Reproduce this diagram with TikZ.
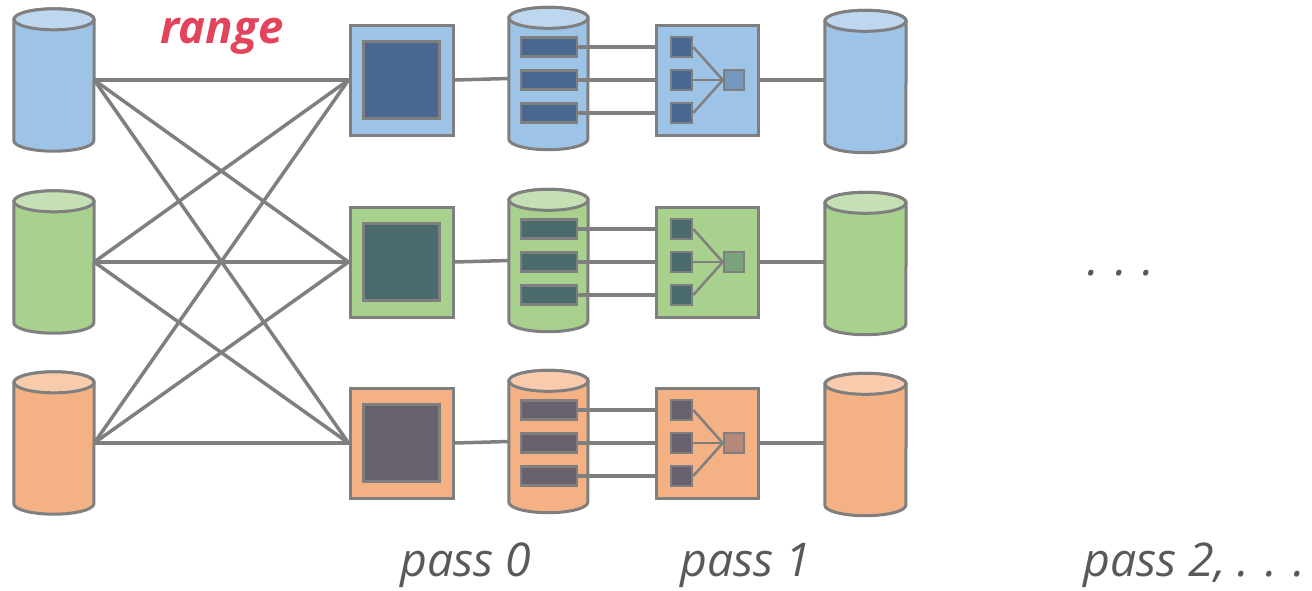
\documentclass[tikz,border=0pt]{standalone}
\usepackage{fontspec}
\setmainfont{Open Sans}
\usetikzlibrary{positioning}

\definecolor{edgegray}{HTML}{7F7F7F}
\definecolor{rangered}{HTML}{E2445C}
\definecolor{passgray}{HTML}{595959}
\definecolor{bluebody}{HTML}{9DC3E6}
\definecolor{bluetop}{HTML}{BDD7EE}
\definecolor{bluedark}{HTML}{4A6790}
\definecolor{blueout}{HTML}{7298C0}
\definecolor{greenbody}{HTML}{A9D18E}
\definecolor{greentop}{HTML}{C5E0B4}
\definecolor{greendark}{HTML}{4A6A6C}
\definecolor{greenout}{HTML}{7AA47C}
\definecolor{orangebody}{HTML}{F4B183}
\definecolor{orangetop}{HTML}{F8CBAD}
\definecolor{orangedark}{HTML}{68606C}
\definecolor{orangeout}{HTML}{B5887A}

% body of a cylinder: an invisible node, then sides and lid
\newcommand{\drum}[6]{%
  \node[drumbody, minimum width=#4pt] (#1) at (#2,#3) {};
  \draw[drumline, fill=#5] (#1.north west) -- (#1.south west)
    arc[start angle=180, end angle=360, x radius=#4pt/2, y radius=10.5pt]
    -- (#1.north east)
    arc[start angle=0, end angle=180, x radius=#4pt/2, y radius=10.5pt] -- cycle;
  \draw[drumline, fill=#6] (#1.north) ellipse[x radius=#4pt/2, y radius=10.5pt];
}

\tikzset{
  drumbody/.style={rectangle, draw=none, inner sep=0pt, minimum height=121pt},
  drumline/.style={draw=edgegray, line width=3pt},
  link/.style={draw=edgegray, line width=3.5pt},
  thinlink/.style={draw=edgegray, line width=2.5pt},
  sortbox/.style={rectangle, draw=edgegray, line width=3pt, inner sep=0pt,
    minimum width=103pt, minimum height=110pt},
  runbox/.style={rectangle, draw=edgegray, line width=2.5pt, inner sep=0pt,
    minimum width=76pt, minimum height=77pt},
  bar/.style={rectangle, draw=edgegray, line width=2.5pt, inner sep=0pt,
    minimum width=56pt, minimum height=19pt},
  chip/.style={rectangle, draw=edgegray, line width=2.5pt, inner sep=0pt,
    minimum width=21pt, minimum height=20pt},
  passlabel/.style={anchor=base, text=passgray,
    font=\fontsize{46.5}{54}\selectfont\itshape}
}

\begin{document}
\begin{tikzpicture}[x=1pt, y=-1pt]
  \useasboundingbox (0,0) rectangle (1312,590);

  \foreach \r/\yc/\body/\lid/\dark/\out in {
      0/80/bluebody/bluetop/bluedark/blueout,
      1/262/greenbody/greentop/greendark/greenout,
      2/443/orangebody/orangetop/orangedark/orangeout}
  {
    % input partition
    \drum{L\r}{54}{\yc}{80}{\body}{\lid}
    % pass 0: sort the runs
    \node[sortbox, fill=\body] (P\r) at (401.5,\yc) {};
    \node[runbox, fill=\dark] (K\r) at (P\r) {};
    \drum{M\r}{548.5}{\yc-1.5}{79}{\body}{\lid}
    \foreach \k in {0,1,2}
      \node[bar, fill=\dark] (B\r\k) at (549,\yc-33+33*\k) {};
    \draw[link] (P\r.east) -- (M\r.west);
    % pass 1: merge
    \node[sortbox, fill=\body, minimum width=102pt] (Q\r) at (707,\yc) {};
    \node[chip, fill=\out, minimum width=20pt] (O\r) at (734,\yc) {};
    \foreach \k in {0,1,2} {
      \node[chip, fill=\dark] (S\r\k) at (681.5,\yc-33+33*\k) {};
      \draw[link] (B\r\k.east) -- (B\r\k.east -| Q\r.west);
      \draw[thinlink] (S\r\k.east) -- (O\r.west);
    }
    \drum{R\r}{865.5}{\yc+1.5}{81}{\body}{\lid}
    \draw[link] (Q\r.east) -- (Q\r.east -| R\r.west);
  }

  % range partitioning
  \foreach \i in {0,1,2}
    \foreach \j in {0,1,2}
      \draw[link] (L\i.east) -- (P\j.west);

  \node[text=rangered, font=\fontsize{45.5}{54}\selectfont\bfseries\itshape]
    (range) at (222,36) {range};
  \node[passlabel] (dots) at (1121,275) {. . .};
  \node[passlabel] (pass0) at (466,576) {pass 0};
  \node[passlabel] (pass1) at (746,576) {pass 1};
  \node[passlabel] (pass2) at (1194,576) {pass 2, . . .};
\end{tikzpicture}
\end{document}
